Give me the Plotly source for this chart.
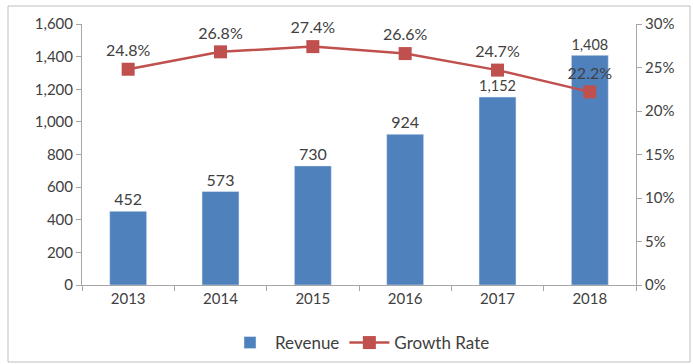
import plotly.graph_objects as go

years = ["2013", "2014", "2015", "2016", "2017", "2018"]
revenue = [452, 573, 730, 924, 1152, 1408]
growth = [0.248, 0.268, 0.274, 0.266, 0.247, 0.222]

FONT = "Lato, 'Open Sans', sans-serif"
TXT = "#404040"

fig = go.Figure()
fig.add_trace(go.Bar(
    x=years, y=revenue, name="Revenue",
    marker=dict(color="#4F81BD"), width=0.4,
    text=[f"{v:,}" for v in revenue], textposition="outside",
    textfont=dict(size=16, color=TXT, family=FONT), cliponaxis=False,
))
fig.add_trace(go.Scatter(
    x=years, y=growth, name="Growth Rate", yaxis="y2",
    mode="lines+markers+text",
    line=dict(color="#C0504D", width=2.5),
    marker=dict(symbol="square", size=13, color="#C0504D"),
    text=[f"{v*100:.1f}%" for v in growth], textposition="top center",
    textfont=dict(size=16, color=TXT, family=FONT), cliponaxis=False,
))

W, H = 693, 364
L, R, T, B = 82, 57, 24, 79
pw, ph = W - L - R, H - T - B

def px(x):
    return (x - L) / pw

def py(y):
    return (H - B - y) / ph

fig.update_layout(
    width=W, height=H,
    margin=dict(l=L, r=R, t=T, b=B),
    paper_bgcolor="white", plot_bgcolor="white",
    font=dict(family=FONT, size=15, color=TXT),
    bargap=0.6,
    showlegend=True,
    legend=dict(orientation="h", xref="container", yref="container",
                x=360 / W, xanchor="center", y=1 - 343 / H, yanchor="middle",
                font=dict(size=17, color=TXT), itemwidth=40),
    xaxis=dict(type="category", showline=True, linecolor="#A6A6A6", linewidth=1,
               ticks="outside", tickson="boundaries", ticklen=5, tickcolor="#A6A6A6",
               tickfont=dict(size=15, color=TXT), showgrid=False, automargin=False),
    yaxis=dict(range=[0, 1600], dtick=200, tickformat=",", showline=True,
               linecolor="#A6A6A6", ticks="outside", ticklen=5, tickcolor="#A6A6A6",
               showgrid=False, zeroline=False, tickfont=dict(size=15, color=TXT),
               automargin=False),
    yaxis2=dict(range=[0, 0.30], dtick=0.05, tickformat=".0%", overlaying="y", side="right",
                showline=True, linecolor="#A6A6A6", ticks="outside", ticklen=5,
                tickcolor="#A6A6A6", showgrid=False, zeroline=False,
                tickfont=dict(size=15, color=TXT), automargin=False),
    shapes=[dict(type="rect", xref="paper", yref="paper",
                 x0=px(8), x1=px(690), y0=py(362), y1=py(6),
                 line=dict(color="#BFBFBF", width=1), layer="above")],
)

fig.write_html("out.html")
